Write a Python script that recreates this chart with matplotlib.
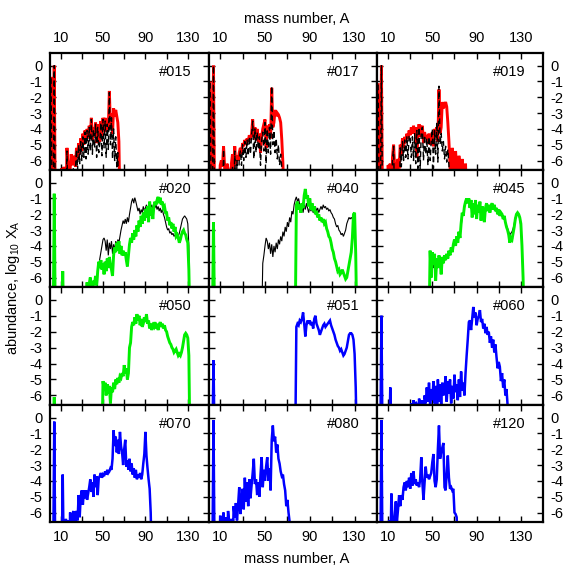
import numpy as np
import matplotlib
matplotlib.use('Agg')
import matplotlib.pyplot as plt

plt.rcParams['font.family'] = ['Liberation Sans', 'DejaVu Sans']
plt.rcParams['axes.unicode_minus'] = False
plt.rcParams['mathtext.default'] = 'regular'

# ---------------- data (log10 abundance vs mass number A) ----------------
# each series: first mass number + consecutive values (A, A+1, ...); -9 = below plot floor
x_ticks = [10, 30, 50, 70, 90, 110, 130]
x_tick_labels = ['10', '', '50', '', '90', '', '130']
y_ticks = [0, -1, -2, -3, -4, -5, -6]
y_tick_labels = ['0', '-1', '-2', '-3', '-4', '-5', '-6']
panel_labels = ['#015', '#017', '#019', '#020', '#040', '#045',
                '#050', '#051', '#060', '#070', '#080', '#120']

p015_red_start = 1
p015_red = [-0.8, -9, -6.5, 0.0, -9, -9, -9, -9, -9, -9,
            -6.5, -9, -6.4, -9, -9, -5.2, -6.4, -9, -6.5, -5.6,
            -6.3, -6.0, -5.7, -6.4, -5.2, -5.8, -4.9, -5.6, -4.6, -5.4,
            -4.3, -5.0, -4.1, -4.8, -4.0, -4.6, -3.8, -4.5, -3.3, -4.7,
            -3.9, -4.4, -3.6, -4.9, -3.7, -4.2, -4.8, -3.5, -4.6, -3.3,
            -4.1, -3.3, -4.2, -3.6, -4.0, -1.6, -3.8, -3.0, -4.3, -2.7,
            -3.2, -2.8, -3.2, -3.6, -4.8, -9]
p015_black_start = 1
p015_black = [-0.8, -9, -9, 0.0, -9, -9, -9, -9, -9, -9,
              -9, -9, -9, -9, -9, -5.4, -9, -9, -9, -9,
              -9, -6.4, -9, -6.5, -5.3, -6.6, -5.0, -6.2, -4.8, -6.0,
              -4.5, -5.8, -4.2, -5.9, -4.1, -5.6, -3.9, -5.4, -3.4, -5.6,
              -4.0, -5.2, -3.7, -5.8, -3.9, -5.5, -4.9, -3.6, -5.7, -3.4,
              -5.2, -3.5, -5.8, -3.7, -5.3, -1.7, -5.0, -3.3, -5.9, -4.0,
              -6.0, -4.5, -6.4, -5.5, -9, -9]

p017_red_start = 1
p017_red = [-1.1, -9, -9, 0.0, -9, -9, -9, -9, -9, -6.3,
            -6.0, -6.4, -5.1, -6.5, -9, -6.2, -6.5, -9, -9, -6.2,
            -5.6, -6.5, -5.1, -6.3, -5.7, -6.0, -5.5, -5.2, -5.6, -4.9,
            -5.1, -4.7, -5.0, -4.6, -4.8, -4.4, -4.7, -4.3, -3.4, -4.5,
            -3.9, -4.7, -4.0, -4.8, -4.3, -5.5, -4.5, -4.0, -3.7, -3.4,
            -5.2, -3.8, -4.3, -3.7, -4.6, -1.4, -3.9, -3.6, -2.8, -3.2,
            -3.0, -3.1, -3.3, -3.6, -4.7, -6.2, -9]
p017_black_start = 1
p017_black = [-1.1, -9, -9, 0.0, -9, -9, -9, -9, -9, -9,
              -9, -9, -5.3, -9, -9, -9, -9, -9, -9, -9,
              -6.4, -9, -5.4, -9, -6.0, -9, -5.8, -5.4, -6.3, -5.0,
              -6.0, -4.8, -5.8, -4.7, -5.7, -4.5, -5.6, -4.4, -3.5, -5.9,
              -4.0, -5.5, -4.2, -5.3, -4.5, -6.3, -4.7, -4.2, -5.4, -3.6,
              -6.2, -4.0, -5.5, -3.9, -5.6, -1.3, -5.0, -4.1, -5.5, -4.6,
              -5.9, -5.0, -6.3, -5.6, -6.5, -9]

p019_red_start = 1
p019_red = [-1.2, -9, -9, 0.0, -9, -9, -9, -9, -9, -6.3,
            -6.5, -6.2, -9, -5.8, -5.0, -6.5, -9, -6.3, -5.9, -6.5,
            -5.0, -5.7, -4.6, -5.2, -4.5, -4.9, -4.3, -4.6, -4.1, -4.4,
            -3.9, -4.3, -3.8, -4.2, -3.9, -5.8, -4.4, -3.7, -4.5, -4.0,
            -3.8, -4.9, -4.2, -4.6, -4.4, -4.9, -4.3, -5.0, -4.6, -4.2,
            -5.1, -4.0, -4.4, -3.9, -4.8, -1.5, -4.3, -3.9, -2.3, -2.7,
            -2.5, -2.3, -2.6, -3.6, -4.8, -6.3, -9, -5.2, -6.5, -9,
            -5.4, -6.5, -9, -5.7, -6.5, -9, -5.9, -9, -9, -6.2, -9]
p019_black_start = 1
p019_black = [-1.2, -9, -9, 0.0, -9, -9, -9, -9, -9, -9,
              -9, -9, -9, -6.0, -5.1, -9, -9, -9, -9, -9,
              -5.2, -6.4, -4.8, -6.0, -4.7, -5.8, -4.5, -5.9, -4.4, -4.6,
              -5.8, -4.5, -6.0, -4.3, -6.2, -4.1, -6.5, -3.9, -6.6, -4.2,
              -3.9, -6.0, -4.4, -5.6, -4.6, -6.3, -4.5, -6.0, -4.8, -4.0,
              -6.5, -4.1, -5.6, -3.6, -6.1, -1.3, -5.0, -4.3, -5.4, -4.8,
              -5.9, -5.1, -6.1, -5.3, -6.3, -9]

p020_green_light_start = 1
p020_green_light = [-9, -9, -9, -0.7, -9, -9, -9, -9, -9, -9, -9, -5.6, -9]
p020_green_start = 34
p020_green = [-9, -6.3, -9, -6.4, -6.0, -6.5, -9, -6.2, -6.4, -5.9, -6.5,
              -5.6, -5.0, -5.4, -4.9, -5.5, -5.1, -5.8, -5.0, -5.6, -4.8,
              -5.4, -4.7, -5.2, -5.5, -5.9, -4.6, -4.1, -4.4, -3.8, -4.3,
              -3.7, -4.5, -4.0, -4.6, -4.3, -4.6, -4.4, -4.9, -5.3, -4.6,
              -3.9, -3.5, -3.8, -3.2, -3.6, -3.0, -3.4, -2.7, -3.1, -2.4,
              -2.8, -2.1, -2.6, -1.9, -2.4, -1.7, -2.2, -1.5, -2.5, -1.2,
              -2.1, -1.6, -2.3, -1.5, -1.2, -1.4, -1.1, -0.9, -1.3, -0.95,
              -1.4, -1.2, -1.6, -1.5, -1.9, -1.9, -2.4, -2.2, -2.7, -2.5,
              -2.9, -2.6, -3.1, -2.8, -3.4, -3.3, -3.5, -3.8, -3.6, -3.3,
              -3.1, -3.0, -3.2, -3.3, -3.6, -3.8, -5.5, -9]
p020_black_start = 44
p020_black = [-9, -5.6, -5.2, -4.8, -4.4, -4.0, -3.6, -3.5, -3.7, -4.3,
              -3.6, -4.6, -3.8, -4.2, -3.7, -4.5, -3.9, -4.3, -3.7, -4.0,
              -3.6, -3.8, -3.4, -3.0, -2.7, -2.4, -2.6, -2.3, -2.6, -2.2,
              -2.5, -2.0, -1.6, -1.2, -1.0, -1.3, -0.95, -1.2, -1.5, -1.8,
              -1.6, -2.0, -1.7, -1.9, -1.5, -1.8, -1.6, -1.4, -1.7, -1.5,
              -1.8, -1.6, -1.4, -1.7, -1.5, -1.6, -1.4, -1.7, -1.5, -1.8,
              -1.6, -1.9, -1.7, -2.0, -2.2, -2.5, -2.8, -3.0, -2.9, -3.2,
              -3.1, -3.3, -3.2, -3.4, -3.3, -3.5, -3.3, -3.4, -3.2, -2.9,
              -2.6, -2.3, -2.2, -2.1, -2.2, -2.3, -2.6, -4.0, -9]

p040_green_light_start = 1
p040_green_light = [-9, -9, -9, -2.5, -9]
p040_green_start = 77
p040_green = [-9, -1.4, -1.2, -1.7, -1.4, -1.9, -1.3, -1.6, -0.8, -0.4,
              -1.0, -0.8, -1.5, -1.0, -1.7, -1.3, -1.8, -1.5, -2.0, -1.8,
              -2.2, -2.0, -2.4, -2.2, -2.5, -2.3, -2.6, -2.5, -2.9, -3.1,
              -3.4, -3.5, -3.8, -4.2, -4.4, -4.8, -5.0, -5.3, -5.6, -5.5,
              -5.8, -5.7, -5.5, -5.7, -5.9, -6.1, -6.0, -5.6, -5.2, -4.8,
              -4.4, -3.5, -2.0, -1.9, -4.5, -9]
p040_black_start = 47
p040_black = [-9, -5.1, -4.6, -4.0, -3.5, -3.7, -4.2, -3.8, -4.5, -3.9,
              -4.7, -4.0, -4.4, -3.8, -4.2, -3.6, -3.9, -3.4, -3.7, -3.1,
              -3.4, -2.8, -3.1, -2.5, -2.8, -2.2, -2.5, -1.8, -2.0, -1.4,
              -1.1, -0.9, -1.2, -1.0, -1.4, -1.8, -1.5, -1.9, -1.4, -1.7,
              -1.3, -1.6, -1.9, -1.5, -1.8, -1.6, -1.9, -1.7, -1.5, -1.8,
              -1.6, -1.9, -1.7, -1.5, -1.7, -1.4, -1.6, -1.5, -1.7, -1.6,
              -1.8, -1.7, -1.9, -2.0, -2.2, -2.3, -2.6, -2.8, -2.7, -3.0,
              -3.1, -3.3, -3.2, -3.4, -3.2, -3.0, -2.6, -2.4, -2.2, -2.3,
              -2.2, -2.3, -2.4, -2.8, -4.5, -9]

p045_green_start = 47
p045_green = [-9, -4.3, -6.0, -4.4, -5.2, -4.5, -6.2, -4.8, -5.4, -4.6,
              -5.0, -5.8, -4.7, -5.1, -4.6, -4.9, -4.5, -4.8, -4.3, -4.6,
              -4.1, -4.4, -3.9, -3.6, -4.0, -3.4, -3.8, -3.1, -3.5, -2.6,
              -1.9, -2.1, -1.5, -1.2, -1.0, -1.3, -1.0, -1.6, -1.1, -2.2,
              -1.3, -2.0, -1.1, -2.3, -1.4, -1.9, -1.2, -2.4, -1.5, -1.8,
              -2.5, -1.6, -1.3, -1.8, -1.4, -1.9, -1.5, -1.3, -1.7, -1.4,
              -1.8, -1.6, -2.0, -1.7, -2.1, -1.9, -2.0, -2.3, -2.1, -2.5,
              -2.8, -3.0, -3.3, -3.8, -3.5, -3.6, -3.2, -2.8, -2.3, -2.0,
              -1.9, -2.0, -2.2, -2.6, -4.0, -6.0, -9]
p045_black_start = 47
p045_black = [-9, -4.6, -5.8, -4.6, -5.4, -4.7, -5.9, -4.9, -5.3, -4.7,
              -5.1, -5.6, -4.8, -5.0, -4.7, -4.9, -4.6, -4.7, -4.4, -4.5,
              -4.2, -4.3, -3.9, -3.7, -3.9, -3.5, -3.6, -3.2, -3.3, -2.8,
              -2.1, -2.0, -1.6, -1.2, -1.1, -1.3, -1.0, -1.5, -1.2, -2.0,
              -1.4, -1.8, -1.2, -2.1, -1.5, -1.8, -1.3, -2.2, -1.6, -1.8,
              -2.3, -1.7, -1.4, -1.7, -1.5, -1.8, -1.6, -1.4, -1.7, -1.5,
              -1.8, -1.7, -2.0, -1.8, -2.1, -2.0, -2.1, -2.3, -2.2, -2.5,
              -2.7, -2.9, -3.1, -3.3, -3.2, -3.1, -2.9, -2.6, -2.2, -2.0,
              -1.9, -2.0, -2.3, -2.8, -4.2, -6.2, -9]

p050_green_light_start = 1
p050_green_light = [-9, -9, -9, -6.1, -9]
p050_green_start = 49
p050_green = [-9, -5.1, -5.6, -5.2, -6.0, -5.3, -5.9, -5.4, -6.5, -5.5,
              -5.8, -5.2, -5.6, -5.0, -5.3, -4.9, -5.2, -4.8, -4.9, -4.6,
              -4.8, -4.1, -4.6, -4.3, -5.0, -4.6, -3.0, -2.7, -1.7, -1.4,
              -1.6, -1.1, -1.5, -0.9, -1.3, -1.0, -1.6, -1.2, -1.7, -1.5,
              -1.1, -1.4, -0.9, -1.5, -1.3, -1.8, -1.5, -1.9, -1.6, -1.7,
              -1.4, -1.8, -1.5, -1.9, -1.6, -1.4, -1.7, -1.5, -1.8, -1.6,
              -1.9, -2.0, -2.3, -2.5, -2.7, -2.8, -3.0, -3.1, -3.3, -3.2,
              -3.1, -3.3, -3.5, -3.4, -3.5, -3.3, -3.0, -2.6, -2.2, -2.1,
              -2.2, -2.4, -3.5, -9]

p051_blue_light_start = 1
p051_blue_light = [-9, -9, -9, -3.8, -9]
p051_blue_start = 77
p051_blue = [-9, -1.7, -1.5, -1.6, -1.3, -1.4, -1.2, -0.8, -1.5, -2.3,
             -1.6, -1.3, -1.5, -1.3, -1.6, -1.4, -1.8, -1.2, -1.0, -1.5,
             -1.7, -1.9, -2.2, -2.0, -1.8, -1.6, -1.5, -1.7, -1.6, -1.5,
             -1.4, -1.3, -1.6, -1.8, -2.0, -2.2, -2.5, -2.7, -2.9, -3.0,
             -3.2, -3.1, -3.3, -3.5, -3.4, -3.2, -3.0, -2.6, -2.2, -2.1,
             -2.1, -2.2, -2.5, -3.4, -5.5, -9]

p060_blue_light_start = 1
p060_blue_light = [-9, -9, -9, -1.0, -9, -9, -9, -9, -9, -9, -9, -5.5, -9]
p060_blue_start = 30
p060_blue = [-9, -6.5, -9, -6.3, -9, -6.4, -6.6, -9, -6.2, -6.5,
             -9, -6.3, -9, -6.0, -6.5, -5.5, -6.4, -5.2, -6.6, -5.6,
             -6.3, -5.1, -6.5, -5.4, -9, -5.0, -6.4, -5.3, -6.6, -5.2,
             -6.0, -5.6, -4.8, -6.4, -5.1, -5.9, -5.0, -6.5, -5.4, -6.2,
             -4.7, -5.8, -5.3, -6.3, -5.0, -6.1, -4.5, -5.7, -5.2, -6.0,
             -4.6, -3.5, -2.5, -1.4, -1.3, -1.9, -1.2, -0.45, -1.1, -0.8,
             -1.6, -1.2, -1.0, -0.65, -1.4, -1.2, -1.8, -1.5, -2.1, -1.7,
             -2.2, -2.0, -2.7, -2.3, -3.0, -2.5, -3.3, -2.8, -3.6, -4.3,
             -3.9, -4.2, -5.1, -4.6, -5.5, -5.0, -6.0, -5.6, -6.6, -9]

p070_blue_start = 1
p070_blue = [-9, -9, -9, -0.25, -9, -9, -9, -9, -9, -9,
             -9, -3.6, -9, -9, -6.4, -9, -6.5, -9, -6.0, -9,
             -6.3, -5.9, -9, -6.2, -5.9, -6.5, -4.9, -6.3, -5.0, -4.6,
             -5.5, -4.6, -5.1, -4.6, -5.2, -4.8, -4.4, -3.9, -4.7, -4.1,
             -5.0, -3.6, -4.4, -3.7, -4.9, -3.8, -3.7, -3.5, -3.8, -3.6,
             -3.7, -3.4, -3.6, -3.3, -3.5, -3.4, -3.2, -3.3, -2.6, -0.8,
             -1.8, -1.2, -2.2, -1.4, -2.3, -0.9, -1.8, -2.2, -3.0, -2.0,
             -1.4, -3.1, -2.7, -3.3, -2.6, -3.4, -2.9, -3.6, -3.2, -3.8,
             -3.3, -3.9, -3.6, -3.8, -3.5, -3.9, -3.6, -2.9, -2.3, -0.9,
             -2.4, -3.2, -3.9, -4.5, -6.0, -9]

p080_blue_start = 1
p080_blue = [-9, -9, -9, -0.15, -9, -9, -9, -9, -9, -6.2,
             -9, -6.5, -6.0, -9, -6.3, -9, -5.9, -6.6, -9, -6.4,
             -9, -5.6, -6.3, -5.4, -6.5, -5.5, -4.4, -6.1, -5.2, -4.5,
             -5.8, -3.8, -5.3, -4.1, -5.6, -3.9, -5.1, -4.3, -3.5, -2.6,
             -4.2, -3.9, -4.9, -4.1, -5.0, -3.6, -2.5, -4.4, -3.3, -4.0,
             -3.1, -2.5, -4.0, -3.2, -4.6, -1.4, -0.5, -1.5, -1.2, -2.2,
             -1.7, -2.6, -2.9, -3.4, -3.7, -3.6, -4.2, -4.6, -5.6, -5.2,
             -6.0, -6.6, -9]

p120_blue_start = 1
p120_blue = [-9, -9, -9, -0.15, -9, -9, -9, -9, -9, -9,
             -6.5, -9, -4.8, -6.6, -9, -6.3, -5.3, -6.6, -5.8, -4.9,
             -5.6, -4.9, -5.2, -4.4, -4.1, -4.6, -4.0, -4.4, -3.8, -4.5,
             -3.5, -4.3, -3.4, -4.2, -3.9, -4.3, -4.1, -4.4, -3.9, -2.5,
             -4.1, -5.2, -4.1, -3.1, -3.8, -3.6, -3.9, -3.7, -3.5, -2.8,
             -2.3, -4.0, -4.4, -3.9, -2.0, -0.5, -2.6, -2.2, -1.9, -1.6,
             -4.4, -4.6, -3.5, -2.4, -3.8, -4.5, -4.4, -4.6, -4.5, -6.0,
             -6.1, -6.3, -9]

# ---------------- styles ----------------
RED = dict(color='#ff0000', lw=2.1, zorder=2)
KDASH = dict(color='black', lw=1.0, dashes=(4, 2.5), zorder=3)
GREEN = dict(color='#00ee00', lw=2.1, zorder=3)
KTHIN = dict(color='black', lw=0.8, zorder=2)
BLUE = dict(color='#0000ff', lw=1.8, zorder=3)

panel_series = [
    [(p015_red_start, p015_red, RED), (p015_black_start, p015_black, KDASH)],
    [(p017_red_start, p017_red, RED), (p017_black_start, p017_black, KDASH)],
    [(p019_red_start, p019_red, RED), (p019_black_start, p019_black, KDASH)],
    [(p020_black_start, p020_black, KTHIN), (p020_green_light_start, p020_green_light, GREEN),
     (p020_green_start, p020_green, GREEN)],
    [(p040_black_start, p040_black, KTHIN), (p040_green_light_start, p040_green_light, GREEN),
     (p040_green_start, p040_green, GREEN)],
    [(p045_black_start, p045_black, KTHIN), (p045_green_start, p045_green, GREEN)],
    [(p050_green_light_start, p050_green_light, GREEN), (p050_green_start, p050_green, GREEN)],
    [(p051_blue_light_start, p051_blue_light, BLUE), (p051_blue_start, p051_blue, BLUE)],
    [(p060_blue_light_start, p060_blue_light, BLUE), (p060_blue_start, p060_blue, BLUE)],
    [(p070_blue_start, p070_blue, BLUE)],
    [(p080_blue_start, p080_blue, BLUE)],
    [(p120_blue_start, p120_blue, BLUE)],
]

# ---------------- layout (pixels of a 581 x 581 canvas) ----------------
W = H = 581.0
col_edges = [50, 209, 377, 543]
row_edges = [53, 170, 287, 405, 522]

fig = plt.figure(figsize=(5.81, 5.81), dpi=100)
fig.patch.set_facecolor('white')

for idx in range(12):
    r, c = divmod(idx, 3)
    x0, x1 = col_edges[c], col_edges[c + 1]
    y0, y1 = row_edges[r], row_edges[r + 1]
    ax = fig.add_axes([x0 / W, 1 - y1 / H, (x1 - x0) / W, (y1 - y0) / H])
    for start, vals, st in panel_series[idx]:
        a = np.arange(start, start + len(vals))
        ax.plot(a, np.array(vals, dtype=float), solid_joinstyle='miter',
                clip_on=True, **st)
    ax.set_xlim(0, 150)
    ax.set_ylim(-6.6, 0.8)
    ax.set_xticks(x_ticks)
    ax.set_xticklabels(x_tick_labels)
    ax.set_yticks(y_ticks)
    ax.set_yticklabels(y_tick_labels)
    ax.tick_params(axis='both', which='both', direction='in', length=4.5, width=1.0,
                   top=True, bottom=True, left=True, right=True,
                   labelsize=10.5, pad=5.5, colors='black')
    ax.tick_params(labeltop=(r == 0), labelbottom=(r == 3),
                   labelleft=(c == 0), labelright=(c == 2))
    for sp in ax.spines.values():
        sp.set_linewidth(1.6)
        sp.set_zorder(5)
    ax.text(1 - 17.0 / (x1 - x0), 1 - 19.0 / (y1 - y0), panel_labels[idx],
            transform=ax.transAxes, ha='right', va='center', fontsize=10.5)

cx = (col_edges[0] + col_edges[-1]) / 2 / W
fig.text(cx, 1 - 19 / H, 'mass number, A', ha='center', va='center', fontsize=10.5)
fig.text(cx, 1 - 559 / H, 'mass number, A', ha='center', va='center', fontsize=10.5)
fig.text(13 / W, 1 - 288 / H, 'abundance, log$_{10}$ X$_A$', ha='center', va='center',
         rotation=90, fontsize=10.5)

fig.savefig('out.png', dpi=100, facecolor='white')
